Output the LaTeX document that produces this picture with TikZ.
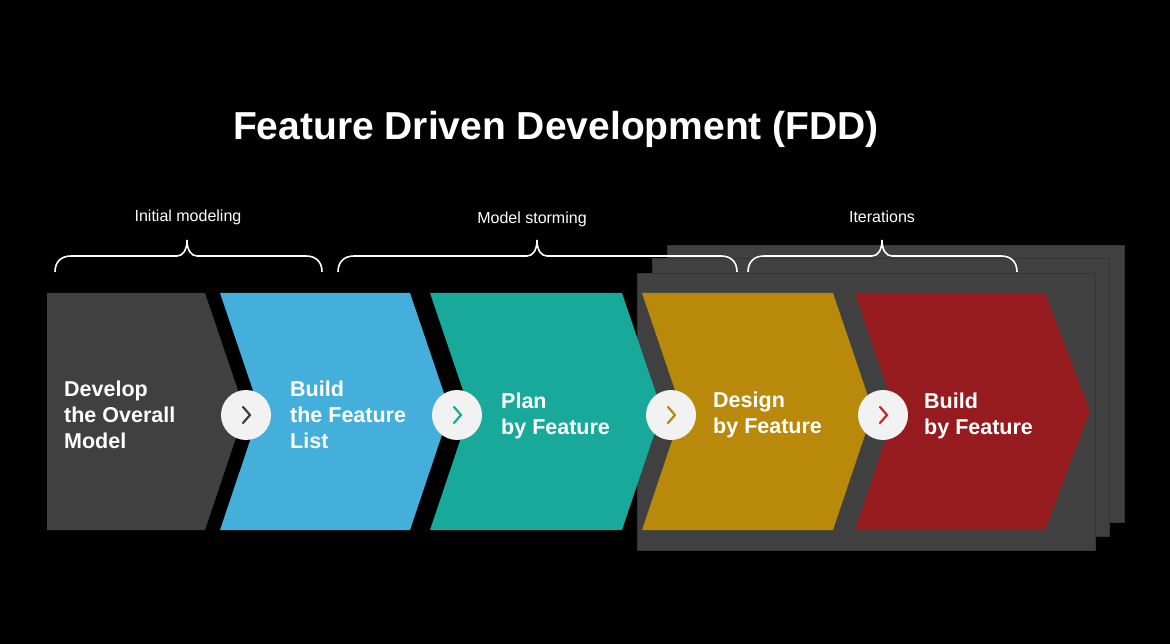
\documentclass[tikz,border=0pt]{standalone}
\usepackage{fontspec}
\setmainfont{Liberation Sans}
\usepackage{tikz}
\definecolor{Slate}{HTML}{404040}
\definecolor{SlateEdge}{HTML}{353535}
\definecolor{Sky}{HTML}{45AFDC}
\definecolor{Teal}{HTML}{19A99A}
\definecolor{Gold}{HTML}{B8890A}
\definecolor{Crimson}{HTML}{951B1F}
\definecolor{CrimsonMark}{HTML}{C4272D}
\definecolor{Pale}{HTML}{F2F2F2}
% curly bracket: left end, tip, right end (baseline 272, tip 240)
\newcommand{\phasebrace}[3]{%
  \draw[bracket] (#1,272) .. controls (#1,262) and (#1+6,256) .. (#1+16,256)
    -- (#2-10,256) .. controls (#2-4,256) and (#2,250) .. (#2,240)
    .. controls (#2,250) and (#2+4,256) .. (#2+10,256)
    -- (#3-16,256) .. controls (#3-6,256) and (#3,262) .. (#3,272);}

\begin{document}
\begin{tikzpicture}[x=1pt,y=-1pt,
  sheet/.style={fill=Slate,draw=SlateEdge,line width=0.6pt},
  steptext/.style={text=white,font=\fontsize{21.5}{26}\selectfont\bfseries,align=left,anchor=west,inner sep=0pt},
  phasetext/.style={text=white,font=\fontsize{16}{19}\selectfont,inner sep=0pt},
  stepdot/.style={circle,fill=Pale,minimum size=50pt,inner sep=0pt},
  chevmark/.style={line width=2.2pt,line cap=round,line join=round},
  bracket/.style={draw=white,line width=1.6pt}
]
  \fill[black] (0,0) rectangle (1170,644);
  \useasboundingbox (0,0) rectangle (1170,644);

  \node[text=white,font=\fontsize{39}{44}\selectfont\bfseries] (title) at (556,129) {Feature Driven Development (FDD)};

  % iteration stack
  \draw[sheet] (667,245) rectangle (1124,522);
  \draw[sheet] (652,258) rectangle (1109,536);
  \draw[sheet] (637,273) rectangle (1095,550);

  % phases
  \node[phasetext] (initial) at (188,217) {Initial modeling};
  \node[phasetext] (storming) at (532,219) {Model storming};
  \node[phasetext] (iter) at (882,217) {Iterations};
  \phasebrace{55}{187}{322}
  \phasebrace{338}{537}{737}
  \phasebrace{748}{882}{1017}

  % chevrons
  \fill[Slate] (47,293) -- (205,293) -- (245,411) -- (205,530) -- (47,530) -- cycle;
  \fill[Sky] (220,293) -- (410,293) -- (450,411) -- (410,530) -- (220,530) -- (260,411) -- cycle;
  \fill[Teal] (430,293) -- (622,293) -- (662,411) -- (622,530) -- (430,530) -- (470,411) -- cycle;
  \fill[Gold] (642,293) -- (833,293) -- (873,411) -- (833,530) -- (642,530) -- (682,411) -- cycle;
  \fill[Crimson] (855,293) -- (1045,293) -- (1090,411) -- (1045,530) -- (855,530) -- (895,411) -- cycle;

  \node[steptext] (develop) at (64,415) {Develop\\the Overall\\Model};
  \node[steptext] (list) at (290,415) {Build\\the Feature\\List};
  \node[steptext] (plan) at (501,416) {Plan\\by Feature};
  \node[steptext] (design) at (713,415) {Design\\by Feature};
  \node[steptext] (build) at (924,416) {Build\\by Feature};

  % step markers
  \node[stepdot] (m1) at (246,415) {};
  \node[stepdot] (m2) at (457,415) {};
  \node[stepdot] (m3) at (671,415) {};
  \node[stepdot] (m4) at (883,415) {};
  \draw[chevmark,Slate] ([shift={(-3,-8)}]m1.center) -- ([shift={(4,0)}]m1.center) -- ([shift={(-3,8)}]m1.center);
  \draw[chevmark,Teal] ([shift={(-3,-8)}]m2.center) -- ([shift={(4,0)}]m2.center) -- ([shift={(-3,8)}]m2.center);
  \draw[chevmark,Gold] ([shift={(-3,-8)}]m3.center) -- ([shift={(4,0)}]m3.center) -- ([shift={(-3,8)}]m3.center);
  \draw[chevmark,CrimsonMark] ([shift={(-3,-8)}]m4.center) -- ([shift={(4,0)}]m4.center) -- ([shift={(-3,8)}]m4.center);
\end{tikzpicture}
\end{document}
